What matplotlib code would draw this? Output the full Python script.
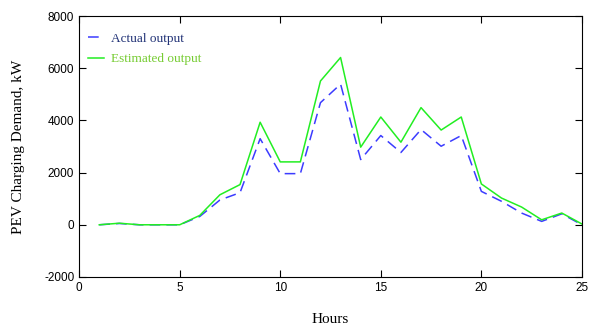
import matplotlib.pyplot as plt
import numpy as np

# Hourly PEV charging demand (kW)
hours = np.arange(1, 26)
actual = [0, 50, 0, 0, 0, 320, 950, 1230, 3300, 1960, 1960, 4680, 5390, 2500,
          3420, 2770, 3650, 3010, 3420, 1280, 900, 450, 130, 420, 0]
estimated = [0, 60, 0, 0, 0, 360, 1150, 1540, 3930, 2410, 2410, 5510, 6410, 2975,
             4130, 3165, 4490, 3630, 4130, 1565, 1025, 680, 190, 450, 30]

serif = ['Liberation Serif', 'DejaVu Serif']
plt.rcParams['axes.unicode_minus'] = False

fig = plt.figure(figsize=(5.95, 3.27), dpi=100)
ax = fig.add_axes([0.133, 0.153, 0.845, 0.798])

ax.plot(hours, actual, color='#3c3cff', linestyle=(0, (7, 4)), lw=1.1, label='Actual output')
ax.plot(hours, estimated, color='#22ee22', lw=1.1, label='Estimated output')

ax.set_xlim(0, 25)
ax.set_ylim(-2000, 8000)
ax.set_xticks([0, 5, 10, 15, 20, 25])
ax.set_yticks(np.arange(-2000, 8001, 2000))
ax.tick_params(direction='in', top=True, right=True, length=5, labelsize=8.5)
for lab in ax.get_xticklabels() + ax.get_yticklabels():
    lab.set_family('Liberation Sans')
    lab.set_stretch('condensed')

ax.set_xlabel('Hours', family=serif, fontsize=11, labelpad=14)
ax.set_ylabel('PEV Charging Demand, kW', family=serif, fontsize=11, labelpad=14)

leg = ax.legend(loc='upper left', bbox_to_anchor=(0.013, 0.946), frameon=False,
                prop={'family': serif, 'size': 9.5},
                handlelength=1.2, handletextpad=0.5, borderaxespad=0, labelspacing=0.6,
                borderpad=0.2)
leg.get_texts()[0].set_color('#223377')
leg.get_texts()[1].set_color('#77cc33')

fig.savefig('out.png', dpi=100)
